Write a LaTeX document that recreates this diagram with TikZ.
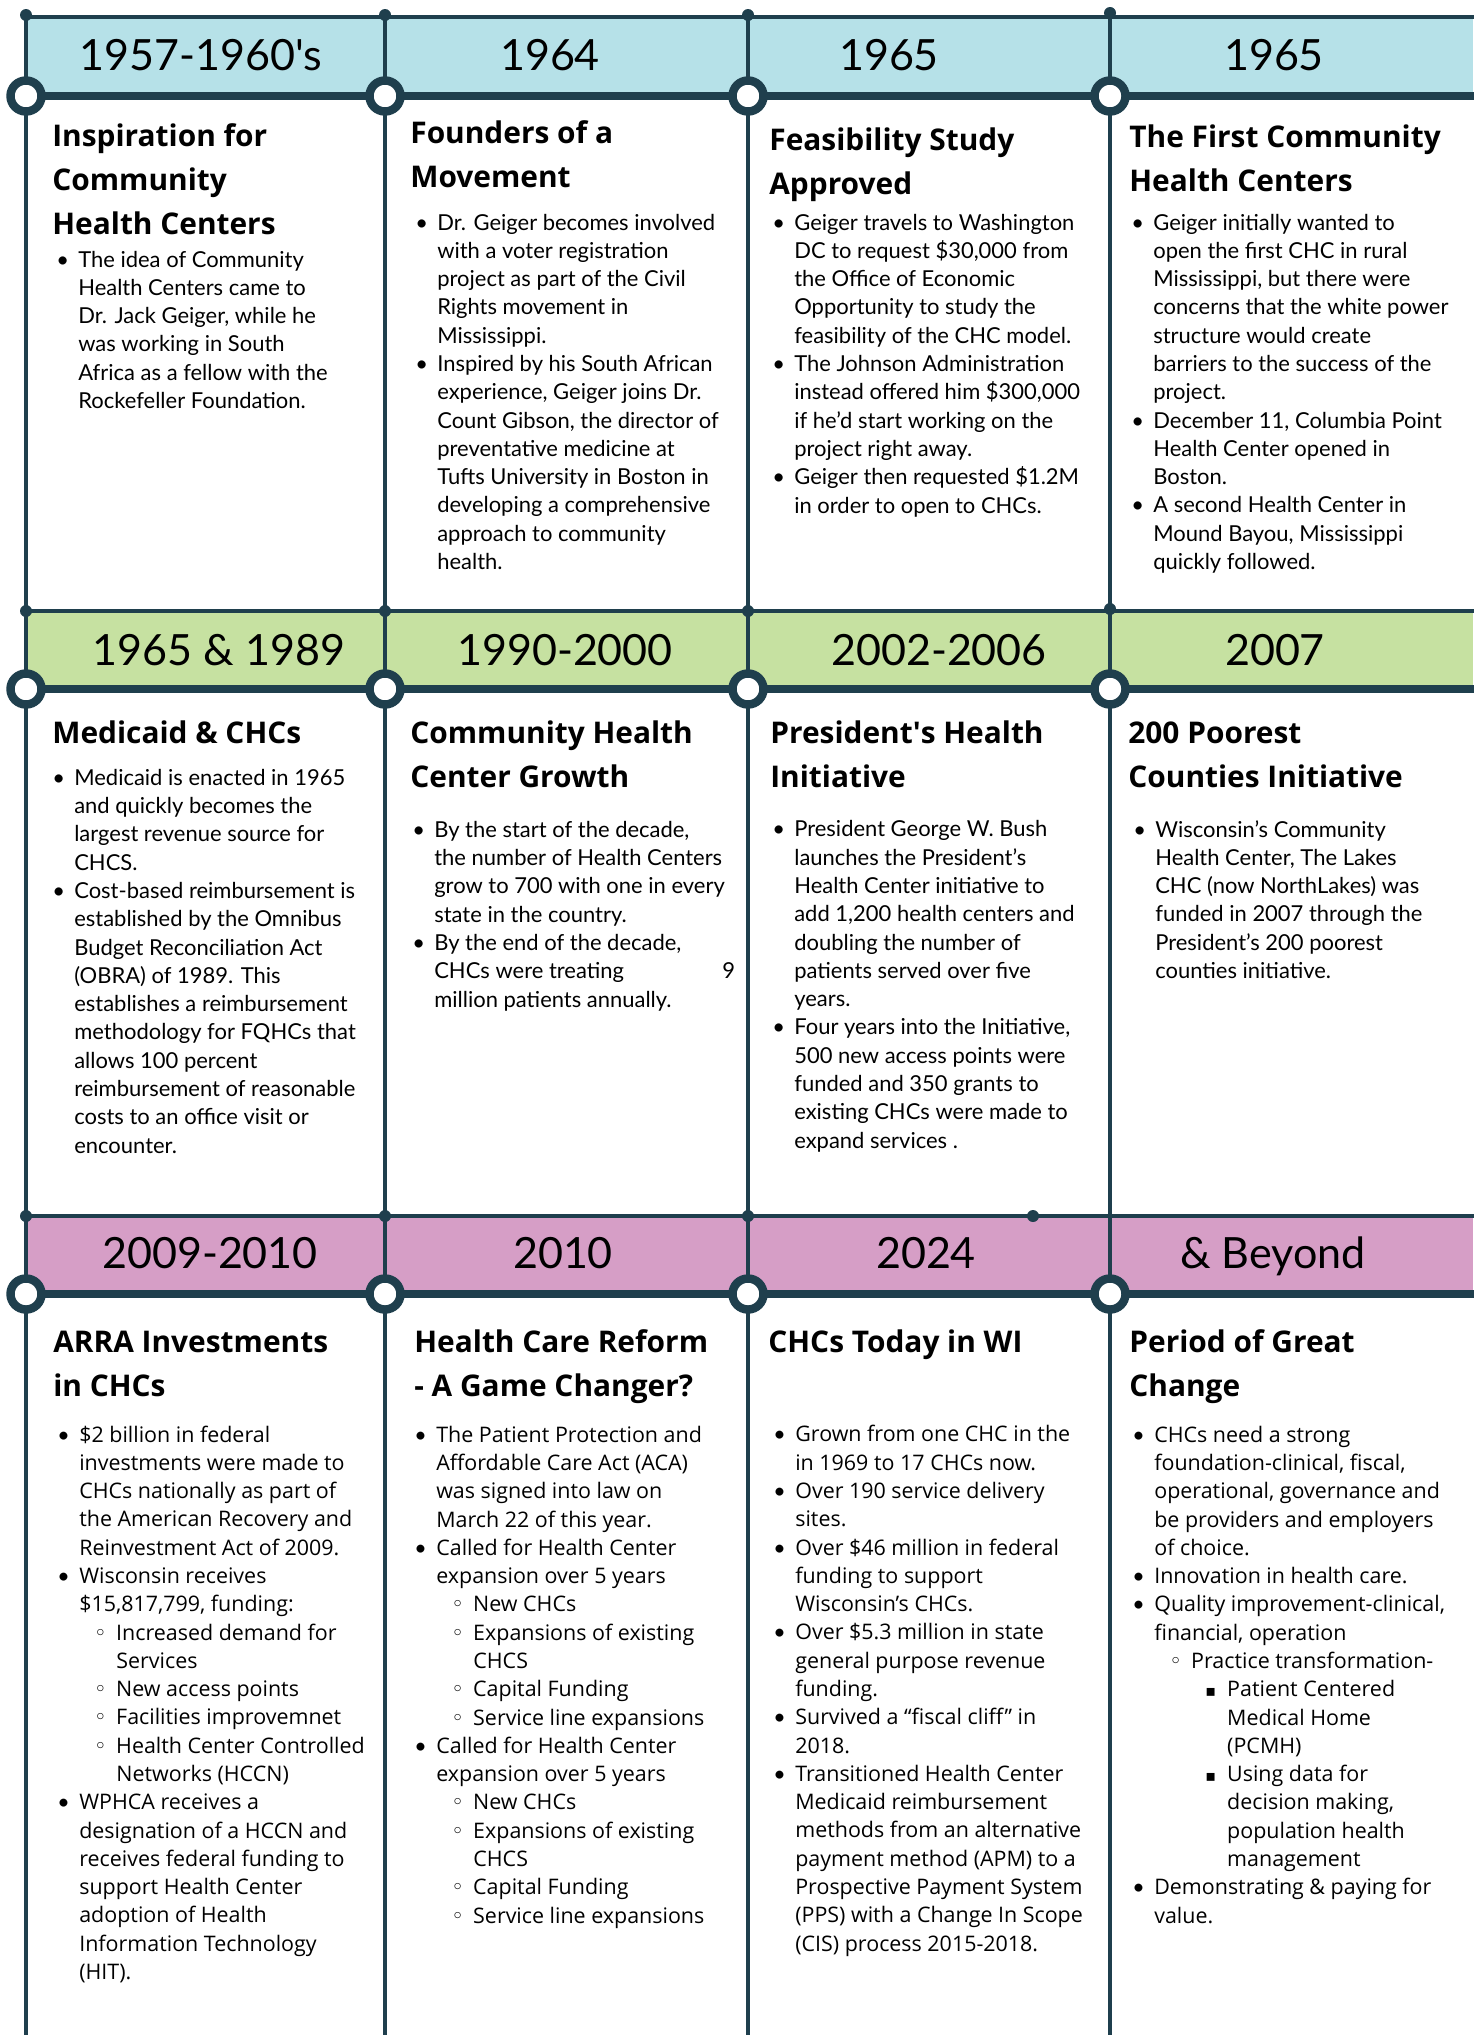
\documentclass[tikz,border=0pt]{standalone}
\usepackage{fontspec}
\setmainfont{Lato}
\newfontfamily\headfont{Open Sans}
\newfontfamily\widefont{Open Sans}
\newfontfamily\symfont{DejaVu Sans}

\definecolor{linecol}{HTML}{1F3F4D}
\definecolor{bandblue}{HTML}{B6E1E8}
\definecolor{bandgreen}{HTML}{C6E1A1}
\definecolor{bandpink}{HTML}{D69EC6}

% bullets and hanging indents
\newcommand{\bul}{\makebox[12.5pt][l]{\normalfont\textbullet}}
\newcommand{\subul}{\hspace*{21pt}\makebox[12.5pt][l]{\symfont ◦}}
\newcommand{\sqbul}{\hspace*{41.5pt}\makebox[12.5pt][l]{\symfont\small ▪}}
\newcommand{\indA}{\hspace*{12.5pt}}
\newcommand{\indB}{\hspace*{33.6pt}}
\newcommand{\indC}{\hspace*{54pt}}

% node base = baseline of the LAST line, so y below is the last baseline
\tikzset{
  yearlbl/.style={font=\fontsize{24.5}{28}\selectfont, anchor=base, inner sep=0pt},
  headlbl/.style={font=\headfont\bfseries\fontsize{17}{25}\selectfont, anchor=base west, align=left, inner sep=0pt},
  bodytxt/.style={font=\fontsize{12.5}{16.1}\selectfont, anchor=base west, align=left, inner sep=0pt},
  widetxt/.style={font=\widefont\fontsize{12.2}{16.1}\selectfont, anchor=base west, align=left, inner sep=0pt},
  thinline/.style={draw=linecol, line width=2.3pt},
  thickline/.style={draw=linecol, line width=5.1pt},
  spine/.style={draw=linecol, line width=2.5pt},
  ring/.style={draw=linecol, fill=white, line width=4.8pt},
  knob/.style={fill=linecol}
}

\begin{document}
\begin{tikzpicture}[x=0.02cm, y=-0.02cm]
\useasboundingbox (0,0) rectangle (1478,2035);

% Colour bands of the three rows
\fill[bandblue] (26,17) rectangle (1473,96);
\fill[bandgreen] (26,611) rectangle (1473,689);
\fill[bandpink] (26,1216) rectangle (1473,1294);

% Band edges
\draw[thinline] (26,17) -- (1474,17);
\draw[thickline] (26,96) -- (1474,96);
\draw[thinline] (26,611) -- (1474,611);
\draw[thickline] (26,689) -- (1474,689);
\draw[thinline] (26,1216) -- (1474,1216);
\draw[thickline] (26,1294) -- (1474,1294);

% Column lines
\draw[spine] (26,14) -- (26,2035);
\draw[spine] (385,14) -- (385,2035);
\draw[spine] (748,14) -- (748,2035);
\draw[spine] (1110,12) -- (1110,2035);

% Small knobs on the band tops
\fill[knob] (26,15) circle[radius=6];
\fill[knob] (385,15) circle[radius=6];
\fill[knob] (748,15) circle[radius=6];
\fill[knob] (1110,13) circle[radius=6];
\fill[knob] (26,611) circle[radius=6];
\fill[knob] (385,611) circle[radius=6];
\fill[knob] (748,611) circle[radius=6];
\fill[knob] (1110,609) circle[radius=6];
\fill[knob] (26,1216) circle[radius=6];
\fill[knob] (385,1216) circle[radius=6];
\fill[knob] (748,1216) circle[radius=6];
\fill[knob] (1033,1216) circle[radius=6];

% Rings on the thick lines
\foreach \yy in {96,689,1294}{
  \foreach \xx in {26,385,748,1110}{
    \draw[ring] (\xx,\yy) circle[radius=15.5];
  }
}

% Years
\node[yearlbl] (y1a) at (201,70) {1957-1960\textquotesingle s};
\node[yearlbl] (y1b) at (550,70) {1964};
\node[yearlbl] (y1c) at (889,70) {1965};
\node[yearlbl] (y1d) at (1274,70) {1965};
\node[yearlbl] (y2a) at (219,665) {1965 \& 1989};
\node[yearlbl] (y2b) at (565,665) {1990-2000};
\node[yearlbl] (y2c) at (939,665) {2002-2006};
\node[yearlbl] (y2d) at (1275,665) {2007};
\node[yearlbl] (y3a) at (210,1268) {2009-2010};
\node[yearlbl] (y3b) at (563,1268) {2010};
\node[yearlbl] (y3c) at (926,1268) {2024};
\node[yearlbl] (y3d) at (1273,1268) {\& Beyond};

% Row 1
\node[headlbl] (h1a) at (52,234) {Inspiration for\\Community\\Health Centers};
\node[headlbl] (h1b) at (410,187) {Founders of a\\Movement};
\node[headlbl] (h1c) at (769,194) {Feasibility Study\\Approved};
\node[headlbl] (h1d) at (1129,191) {The First Community\\Health Centers};

\node[bodytxt] (t1a) at (56,408.5) {\bul The idea of Community\\
\indA Health Centers came to\\
\indA Dr. Jack Geiger, while he\\
\indA was working in South\\
\indA Africa as a fellow with the\\
\indA Rockefeller Foundation.};
\node[bodytxt] (t1b) at (415,569.5) {\bul Dr. Geiger becomes involved\\
\indA with a voter registration\\
\indA project as part of the Civil\\
\indA Rights movement in\\
\indA Mississippi.\\
\bul Inspired by his South African\\
\indA experience, Geiger joins Dr.\\
\indA Count Gibson, the director of\\
\indA preventative medicine at\\
\indA Tufts University in Boston in\\
\indA developing a comprehensive\\
\indA approach to community\\
\indA health.};
\node[bodytxt] (t1c) at (772,513) {\bul Geiger travels to Washington\\
\indA DC to request \$30,000 from\\
\indA the Office of Economic\\
\indA Opportunity to study the\\
\indA feasibility of the CHC model.\\
\bul The Johnson Administration\\
\indA instead offered him \$300,000\\
\indA if he’d start working on the\\
\indA project right away.\\
\bul Geiger then requested \$1.2M\\
\indA in order to open to CHCs.};
\node[bodytxt] (t1d) at (1131,569.5) {\bul Geiger initially wanted to\\
\indA open the first CHC in rural\\
\indA Mississippi, but there were\\
\indA concerns that the white power\\
\indA structure would create\\
\indA barriers to the success of the\\
\indA project.\\
\bul December 11, Columbia Point\\
\indA Health Center opened in\\
\indA Boston.\\
\bul A second Health Center in\\
\indA Mound Bayou, Mississippi\\
\indA quickly followed.};

% Row 2
\node[headlbl] (h2a) at (52,743) {Medicaid \& CHCs};
\node[headlbl] (h2b) at (410,787) {Community Health\\Center Growth};
\node[headlbl] (h2c) at (770,787) {President\textquotesingle s Health\\Initiative};
\node[headlbl] (h2d) at (1128,787) {200 Poorest\\Counties Initiative};

\node[bodytxt] (t2a) at (52,1153) {\bul Medicaid is enacted in 1965\\
\indA and quickly becomes the\\
\indA largest revenue source for\\
\indA CHCS.\\
\bul Cost-based reimbursement is\\
\indA established by the Omnibus\\
\indA Budget Reconciliation Act\\
\indA (OBRA) of 1989. This\\
\indA establishes a reimbursement\\
\indA methodology for FQHCs that\\
\indA allows 100 percent\\
\indA reimbursement of reasonable\\
\indA costs to an office visit or\\
\indA encounter.};
\node[bodytxt] (t2b) at (412,1007) {\bul By the start of the decade,\\
\indA the number of Health Centers\\
\indA grow to 700 with one in every\\
\indA state in the country.\\
\bul By the end of the decade,\\
\indA CHCs were treating\\
\indA million patients annually.};
\node[bodytxt] (t2b9) at (722,978) {9};
\node[bodytxt] (t2c) at (772,1148) {\bul President George W. Bush\\
\indA launches the President’s\\
\indA Health Center initiative to\\
\indA add 1,200 health centers and\\
\indA doubling the number of\\
\indA patients served over five\\
\indA years.\\
\bul Four years into the Initiative,\\
\indA 500 new access points were\\
\indA funded and 350 grants to\\
\indA existing CHCs were made to\\
\indA expand services .};
\node[bodytxt] (t2d) at (1133,978.5) {\bul Wisconsin’s Community\\
\indA Health Center, The Lakes\\
\indA CHC (now NorthLakes) was\\
\indA funded in 2007 through the\\
\indA President’s 200 poorest\\
\indA counties initiative.};

% Row 3
\node[headlbl] (h3a) at (53,1396) {ARRA Investments\\in CHCs};
\node[headlbl] (h3b) at (414,1396) {Health Care Reform\\- A Game Changer?};
\node[headlbl] (h3c) at (768,1352) {CHCs Today in WI};
\node[headlbl] (h3d) at (1129,1396) {Period of Great\\Change};

\node[widetxt] (t3a) at (57,1979.5) {\bul \$2 billion in federal\\
\indA investments were made to\\
\indA CHCs nationally as part of\\
\indA the American Recovery and\\
\indA Reinvestment Act of 2009.\\
\bul Wisconsin receives\\
\indA \$15,817,799, funding:\\
\subul Increased demand for\\
\indB Services\\
\subul New access points\\
\subul Facilities improvemnet\\
\subul Health Center Controlled\\
\indB Networks (HCCN)\\
\bul WPHCA receives a\\
\indA designation of a HCCN and\\
\indA receives federal funding to\\
\indA support Health Center\\
\indA adoption of Health\\
\indA Information Technology\\
\indA (HIT).};
\node[widetxt] (t3b) at (414,1923) {\bul The Patient Protection and\\
\indA Affordable Care Act (ACA)\\
\indA was signed into law on\\
\indA March 22 of this year.\\
\bul Called for Health Center\\
\indA expansion over 5 years\\
\subul New CHCs\\
\subul Expansions of existing\\
\indB CHCS\\
\subul Capital Funding\\
\subul Service line expansions\\
\bul Called for Health Center\\
\indA expansion over 5 years\\
\subul New CHCs\\
\subul Expansions of existing\\
\indB CHCS\\
\subul Capital Funding\\
\subul Service line expansions};
\node[widetxt] (t3c) at (773,1951) {\bul Grown from one CHC in the\\
\indA in 1969 to 17 CHCs now.\\
\bul Over 190 service delivery\\
\indA sites.\\
\bul Over \$46 million in federal\\
\indA funding to support\\
\indA Wisconsin’s CHCs.\\
\bul Over \$5.3 million in state\\
\indA general purpose revenue\\
\indA funding.\\
\bul Survived a “fiscal cliff” in\\
\indA 2018.\\
\bul Transitioned Health Center\\
\indA Medicaid reimbursement\\
\indA methods from an alternative\\
\indA payment method (APM) to a\\
\indA Prospective Payment System\\
\indA (PPS) with a Change In Scope\\
\indA (CIS) process 2015-2018.};
\node[widetxt] (t3d) at (1132,1923) {\bul CHCs need a strong\\
\indA foundation-clinical, fiscal,\\
\indA operational, governance and\\
\indA be providers and employers\\
\indA of choice.\\
\bul Innovation in health care.\\
\bul Quality improvement-clinical,\\
\indA financial, operation\\
\subul Practice transformation-\\
\sqbul Patient Centered\\
\indC Medical Home\\
\indC (PCMH)\\
\sqbul Using data for\\
\indC decision making,\\
\indC population health\\
\indC management\\
\bul Demonstrating \& paying for\\
\indA value.};
\end{tikzpicture}
\end{document}
